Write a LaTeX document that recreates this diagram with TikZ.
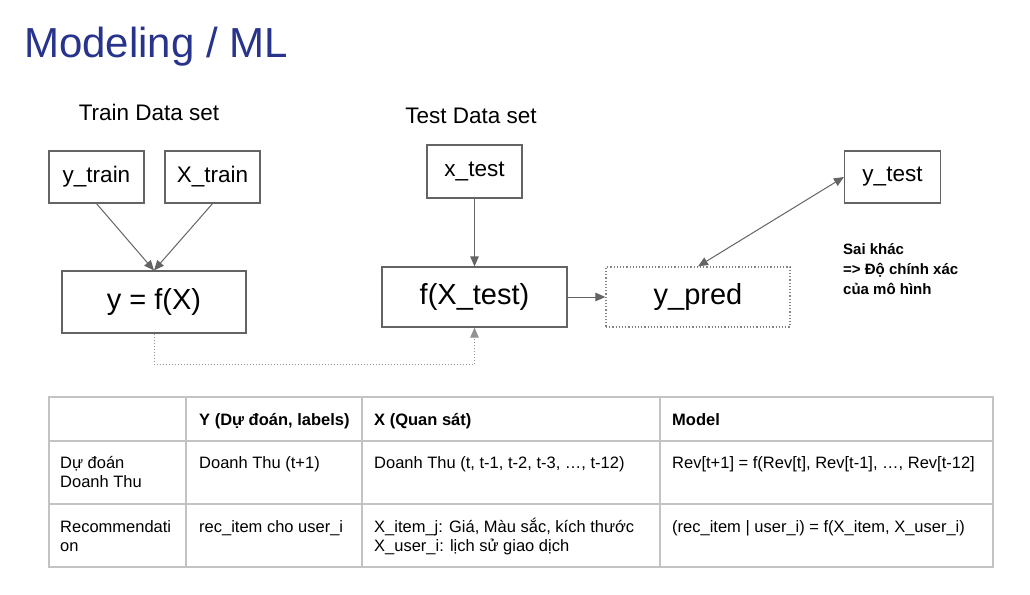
\documentclass[tikz,border=0pt]{standalone}
\usepackage{fontspec}
\setmainfont{Liberation Sans}
\usetikzlibrary{arrows.meta,positioning}
\definecolor{titleblue}{RGB}{40,52,140}
\definecolor{boxgray}{RGB}{100,100,100}
\definecolor{gridgray}{RGB}{195,195,195}
\begin{document}
\begin{tikzpicture}[x=1pt, y=-1pt,
        databox/.style={rectangle, draw=boxgray, line width=1.2pt, minimum width=95pt,
                        minimum height=52pt, align=center, font=\fontsize{22.5}{26}\selectfont},
        funcbox/.style={rectangle, draw=boxgray, line width=1.2pt, minimum width=185pt,
                        minimum height=61pt, align=center, font=\fontsize{29}{33}\selectfont},
        predbox/.style={funcbox, draw=boxgray!80, dotted},
        setlbl/.style={font=\fontsize{22.5}{26}\selectfont},
        flow/.style={draw=boxgray, line width=1pt, -{Triangle[length=10pt,width=8.5pt]}},
        cell/.style={anchor=base west, inner sep=0pt, align=left, font=\fontsize{16.5}{19}\selectfont},
        headcell/.style={cell, font=\fontsize{16.5}{19}\selectfont\bfseries}
      ]
        \useasboundingbox (0,0) rectangle (1030,594);
        \node[anchor=base west, inner sep=0pt, text=titleblue, font=\fontsize{42}{46}\selectfont] (title) at (24,57) {Modeling / ML};

        \node[setlbl] (trainlbl) at (149,112) {Train Data set};
        \node[setlbl] (testlbl) at (471,116) {Test Data set};

        \node[databox] (ytrain) at (96.5,177) {y\_train};
        \node[databox] (xtrain) at (212.5,177) {X\_train};
        \node[funcbox, minimum width=184pt, minimum height=62pt] (model) at (154,302) {y = f(X)};
        \node[databox, minimum height=53pt] (xtest) at (474.5,171.5) {x\_test};
        \node[funcbox, minimum height=60pt] (ftest) at (474.5,297) {f(X\_test)};
        \node[predbox, minimum width=184pt, minimum height=60pt] (ypred) at (698,297) {y\_pred};
        \node[databox, minimum width=96pt] (ytest) at (892.5,177) {y\_test};

        \node[anchor=north west, inner sep=0pt, align=left, font=\fontsize{15}{20}\selectfont\bfseries] (gap) at (843,243)
             {Sai khác\\=> Độ chính xác\\của mô hình};

        \draw[flow] (ytrain.south) -- (model.north);
        \draw[flow] (xtrain.south) -- (model.north);
        \draw[flow] (xtest.south) -- (ftest.north);
        \draw[flow] (ftest.east) -- (ypred.west);
        \draw[flow, {Triangle[length=10pt,width=8.5pt]}-{Triangle[length=10pt,width=8.5pt]}] (ypred.north) -- (ytest.west);
        \coordinate (loop) at (474.5,364);
        \draw[flow, draw=boxgray!70, dotted] (model.south) |- (loop) -- (ftest.south);

        \draw[gridgray, line width=1.3pt] (49,397) rectangle (993,567);
        \draw[gridgray, line width=1.3pt] (49,441) -- (993,441) (49,504) -- (993,504);
        \draw[gridgray, line width=1.3pt] (186,397) -- (186,567) (362,397) -- (362,567) (660,397) -- (660,567);

        \node[headcell] (h1) at (199,425) {Y (Dự đoán, labels)};
        \node[headcell] (h2) at (374,425) {X (Quan sát)};
        \node[headcell] (h3) at (672,425) {Model};

        \node[cell] (r1c0) at (60,487) {Dự đoán\\Doanh Thu};
        \node[cell] (r1c1) at (199,468) {Doanh Thu (t+1)};
        \node[cell] (r1c2) at (374,468) {Doanh Thu (t, t-1, t-2, t-3, …, t-12)};
        \node[cell] (r1c3) at (672,468) {Rev[t+1] = f(Rev[t], Rev[t-1], …, Rev[t-12]};

        \node[cell] (r2c0) at (60,551) {Recommendati\\on};
        \node[cell] (r2c1) at (199,532) {rec\_item cho user\_i};
        \node[cell] (r2c2) at (374,551) {X\_item\_j: Giá, Màu sắc, kích thước\\X\_user\_i: lịch sử giao dịch};
        \node[cell] (r2c3) at (672,532) {(rec\_item | user\_i) = f(X\_item, X\_user\_i)};
      \end{tikzpicture}
\end{document}
